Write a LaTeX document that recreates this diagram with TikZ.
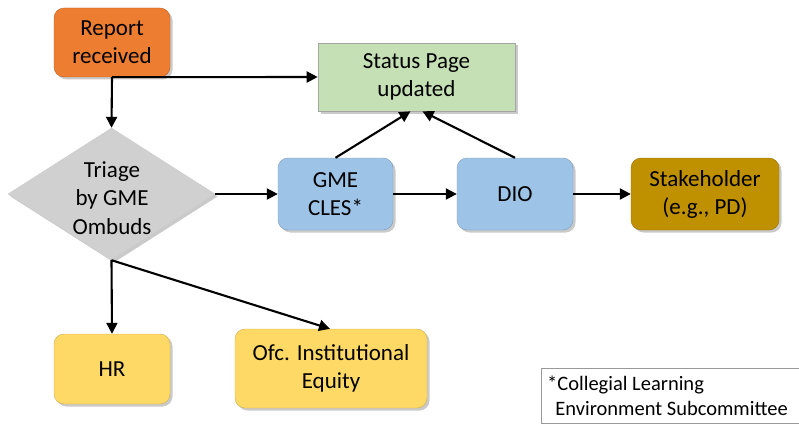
\documentclass[tikz,border=0pt]{standalone}
\usepackage{fontspec}
\setmainfont{Carlito}
\usetikzlibrary{shapes.geometric,arrows.meta,shadows}
\definecolor{cOrange}{HTML}{ED7D31}
\definecolor{cGreen}{HTML}{C5E0B4}
\definecolor{cBlue}{HTML}{9DC3E6}
\definecolor{cGold}{HTML}{BF9000}
\definecolor{cYellow}{HTML}{FFD966}
\definecolor{cGray}{HTML}{D0D0D0}
\tikzset{
  shade/.style={drop shadow={shadow xshift=2.5pt,shadow yshift=-2.5pt,opacity=0.35,fill=black!60}},
  procbox/.style={rounded corners=10pt,shade,draw=#1!80!black,line width=0.4pt,fill=#1,
    align=center,inner sep=0pt,font=\fontsize{23}{28}\selectfont},
  flatbox/.style={shade,draw=black!35,line width=0.6pt,fill=cGreen,
    align=center,inner sep=0pt,font=\fontsize{23}{28}\selectfont},
  decbox/.style={diamond,shade,draw=black!20,line width=0.4pt,fill=cGray,inner sep=0pt,
    minimum width=207pt,minimum height=132pt},
  lbl/.style={align=center,inner sep=0pt,font=\fontsize{23}{28.5}\selectfont},
  note/.style={draw=black!40,line width=0.6pt,fill=white,align=left,inner sep=0pt},
  arr/.style={line width=2.1pt,-{Triangle[length=11pt,width=11pt]}}
}
\begin{document}
\begin{tikzpicture}[x=1pt,y=-1pt]
\useasboundingbox (0,0) rectangle (799,425);

% boxes
\node[procbox=cOrange,minimum width=116pt,minimum height=69pt] (report) at (112,42.5) {Report\\received};
\node[flatbox,minimum width=197pt,minimum height=68pt] (status) at (416.5,77) {Status Page\\updated};
\node[decbox] (triage) at (111.5,194) {};
\node[lbl] (triagetext) at (112,198) {Triage\\by GME\\Ombuds};
\node[procbox=cBlue,minimum width=115pt,minimum height=72pt] (cles) at (335.5,194) {GME\\CLES*};
\node[procbox=cBlue,minimum width=116pt,minimum height=72pt] (dio) at (515,194) {DIO};
\node[procbox=cGold,minimum width=148pt,minimum height=72pt] (stake) at (705,194) {Stakeholder\\(e.g., PD)};
\node[procbox=cYellow,minimum width=116pt,minimum height=70pt] (hr) at (112,369) {HR};
\node[procbox=cYellow,minimum width=192pt,minimum height=79pt] (equity) at (331,368.5) {Ofc. Institutional\\Equity};
\node[note,minimum width=262pt,minimum height=55pt,anchor=north west] (foot) at (541,368) {};
\node[anchor=west,align=left,inner sep=0pt,font=\fontsize{20.5}{25}\selectfont] (foottext) at (547,396)
  {*Collegial Learning\\\hspace*{0.4em}Environment Subcommittee};

% connectors
\draw[arr] (report.south) -- (triage.north);
\draw[arr] (report.south) -- (status.west);
\draw[arr] (triage.east) -- (cles.west);
\draw[arr] (cles.east) -- (dio.west);
\draw[arr] (dio.east) -- (stake.west);
\draw[arr] (cles.north) -- ([xshift=-6pt]status.south);
\draw[arr] (dio.north) -- ([xshift=6pt]status.south);
\draw[arr] (triage.south) -- (hr.north);
\draw[arr] (triage.south) -- ([xshift=-1pt]equity.north);
\end{tikzpicture}
\end{document}
